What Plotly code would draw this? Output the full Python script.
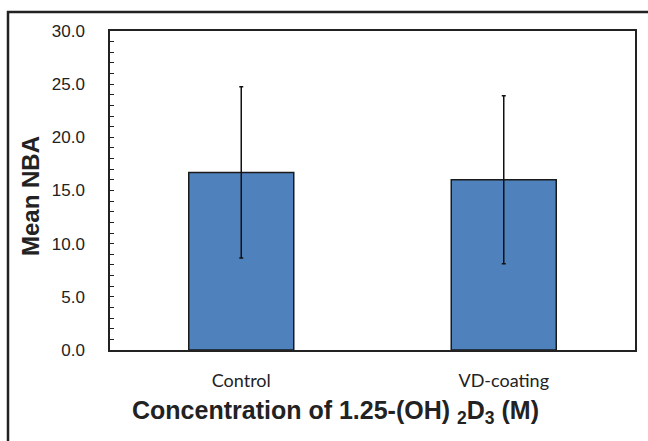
import plotly.graph_objects as go

categories = ["Control", "VD-coating"]
means = [16.7, 16.0]
errors = [8.05, 7.9]
y_tick_vals = [0, 5, 10, 15, 20, 25, 30]

W, H = 648, 441
L, R, T, B = 110, 13, 31, 91

fig = go.Figure()
fig.add_trace(go.Bar(
    x=categories, y=means,
    marker=dict(color="#4F81BD", line=dict(color="#1a1a1a", width=1.5)),
    error_y=dict(type="data", array=errors, visible=True, color="#111111",
                 thickness=1.5, width=2),
    width=0.4,
))

fig.update_layout(
    width=W, height=H,
    margin=dict(l=L, r=R, t=T, b=B),
    paper_bgcolor="white", plot_bgcolor="white",
    showlegend=False,
    font=dict(family="Liberation Sans, Arial", color="#222222"),
    xaxis=dict(
        showline=True, linecolor="#222222", linewidth=1.5, mirror=True,
        ticks="", tickfont=dict(family="Lato, Carlito, Calibri", size=18, color="#222222"),
        ticklabelstandoff=14,
    ),
    yaxis=dict(
        range=[0, 30], tickvals=y_tick_vals, tickformat=".1f",
        showline=True, linecolor="#222222", linewidth=1.5, mirror=True,
        showgrid=False, zeroline=False,
        ticks="inside", ticklen=4, tickcolor="#222222", tickwidth=1,
        minor=dict(dtick=1, ticks="inside", ticklen=4, tickcolor="#222222", tickwidth=1),
        tickfont=dict(family="Liberation Sans, Arial", size=17, color="#222222"),
        ticklabelstandoff=20,
    ),
)

pw, ph = W - L - R, H - T - B

# Y axis title
fig.add_annotation(
    text="<b>Mean NBA</b>", xref="paper", yref="paper",
    x=(31 - L) / pw, y=(H - B - 196) / ph,
    xanchor="center", yanchor="middle", textangle=-90, showarrow=False,
    font=dict(family="Liberation Sans, Arial", size=24, color="#222222"),
)
# X axis title
fig.add_annotation(
    text="<b>Concentration of 1.25-(OH) <sub>2</sub>D<sub>3</sub> (M)</b>",
    xref="paper", yref="paper",
    x=(335 - L) / pw, y=(H - B - 412) / ph,
    xanchor="center", yanchor="middle", showarrow=False,
    font=dict(family="Liberation Sans, Arial", size=25, color="#222222"),
)
# Outer frame
fig.add_shape(
    type="rect", xref="paper", yref="paper",
    x0=(8 - L) / pw, x1=(700 - L) / pw,
    y0=(H - B - 500) / ph, y1=(H - B - 12) / ph,
    line=dict(color="#222222", width=2.5), layer="below",
)

fig.write_html("out.html")
